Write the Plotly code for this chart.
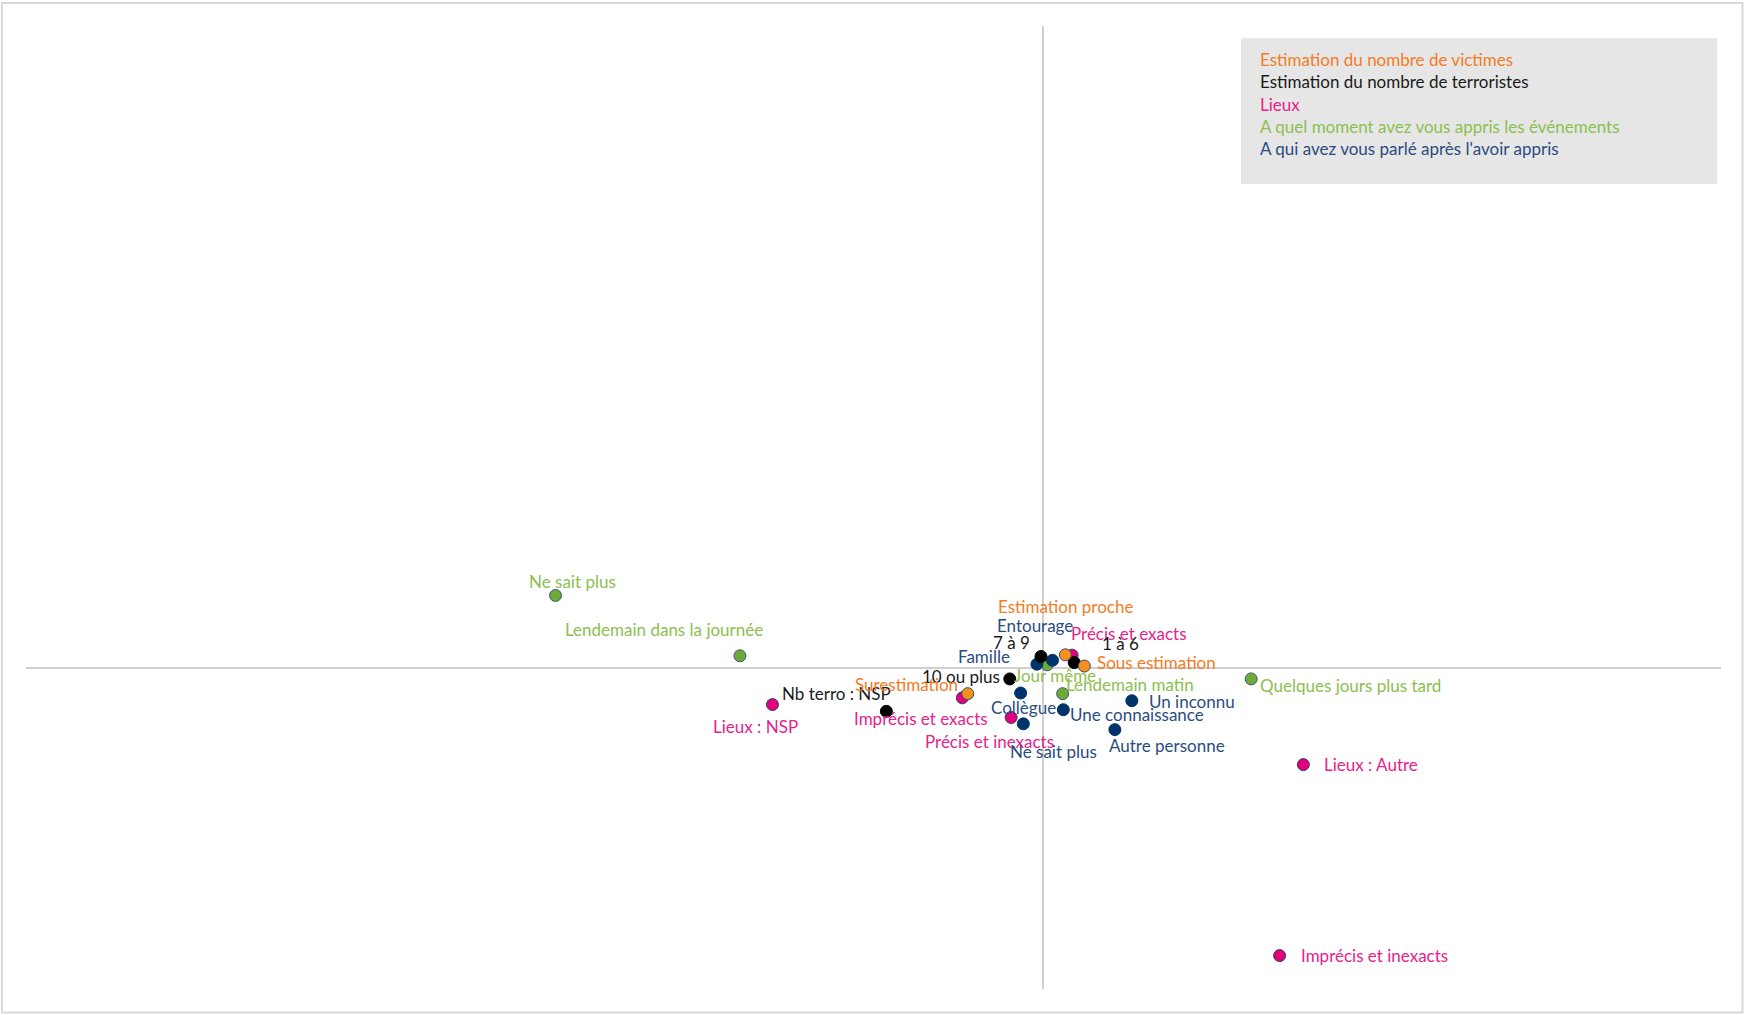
import plotly.graph_objects as go

# ---------------- data ----------------
vict_labels = ["Estimation proche", "Sous estimation", "Surestimation"]
vict_x = [0.033, 0.061, -0.111]
vict_y = [0.041, 0.006, -0.080]

terro_labels = ["7 à 9", "1 à 6", "10 ou plus", "Nb terro : NSP"]
terro_x = [-0.003, 0.046, -0.049, -0.231]
terro_y = [0.036, 0.017, -0.034, -0.135]

lieux_labels = ["Précis et exacts", "Imprécis et exacts", "Précis et inexacts",
                "Lieux : NSP", "Lieux : Autre", "Imprécis et inexacts"]
lieux_x = [0.043, -0.119, -0.047, -0.399, 0.384, 0.349]
lieux_y = [0.040, -0.093, -0.154, -0.114, -0.301, -0.896]

moment_labels = ["Ne sait plus", "Lendemain dans la journée", "Jour même",
                 "Lendemain matin", "Quelques jours plus tard"]
moment_x = [-0.719, -0.447, 0.006, 0.029, 0.307]
moment_y = [0.226, 0.038, 0.010, -0.080, -0.034]

aqui_labels = ["Famille", "Entourage", "Collègue", "Ne sait plus",
               "Une connaissance", "Un inconnu", "Autre personne"]
aqui_x = [-0.009, 0.014, -0.033, -0.029, 0.030, 0.131, 0.106]
aqui_y = [0.012, 0.024, -0.078, -0.174, -0.130, -0.102, -0.192]

legend_names = ["Estimation du nombre de victimes", "Estimation du nombre de terroristes",
                "Lieux", "A quel moment avez vous appris les événements",
                "A qui avez vous parlé après l'avoir appris"]

# ---------------- styles ----------------
FONT = "Lato"
LBL_SIZE = 17
# (anchor, dx px, dy px downward) for each label
vict_pos = [("center", 0, -48), ("left", 11, -4), ("right", -8, -9)]
terro_pos = [("center", -29, -14), ("center", 46, -19), ("right", -8, -2), ("center", -50, -18)]
lieux_pos = [("center", 57, -22), ("center", -41, 21), ("center", -22, 24),
             ("center", -17, 22), ("left", 19, 0), ("left", 19, 0)]
moment_pos = [("center", 17, -14), ("center", -76, -26), ("center", 8, 11),
              ("center", 67, -9), ("left", 7, 7)]
aqui_pos = [("center", -53, -8), ("center", -17, -35), ("center", 3, 14),
            ("center", 30, 28), ("left", 5, 5), ("left", 15, 1), ("center", 52, 16)]

groups = [
    # labels, x, y, pos, marker color, outline, text color
    (lieux_labels, lieux_x, lieux_y, lieux_pos, "#E4007C", "#2F3F6B", "#E6238C"),
    (moment_labels, moment_x, moment_y, moment_pos, "#6DAA37", "#3D5878", "#8CC04F"),
    (aqui_labels, aqui_x, aqui_y, aqui_pos, "#00336A", "#00336A", "#2B4C80"),
    (terro_labels, terro_x, terro_y, terro_pos, "#000000", "#000000", "#1A1A1A"),
    (vict_labels, vict_x, vict_y, vict_pos, "#F7901E", "#3D4B6B", "#F47C24"),
]
legend_colors = ["#F47C24", "#1A1A1A", "#E6238C", "#8CC04F", "#2B4C80"]

fig = go.Figure()
annotations = []
for labels, xs, ys, pos, mc, lc, tc in groups:
    fig.add_trace(go.Scatter(
        x=xs, y=ys, mode="markers", showlegend=False,
        marker=dict(size=12, color=mc, line=dict(color=lc, width=1)),
        hoverinfo="text", text=labels,
    ))
    for lab, x, y, (anc, dx, dy) in zip(labels, xs, ys, pos):
        annotations.append(dict(
            x=x, y=y, xref="x", yref="y", text=lab, showarrow=False,
            xanchor=anc, yanchor="middle", xshift=dx, yshift=-dy,
            font=dict(family=FONT, size=LBL_SIZE, color=tc),
        ))

# legend box (text only, as in reference)
leg_y = [0.9654, 0.9422, 0.9190, 0.8954, 0.8730]
for name, col, ly in zip(legend_names, legend_colors, leg_y):
    annotations.append(dict(
        x=0.7270, y=ly, xref="paper", yref="paper", text=name, showarrow=False,
        xanchor="left", yanchor="middle",
        font=dict(family=FONT, size=17, color=col),
    ))

shapes = [
    dict(type="rect", xref="paper", yref="paper", x0=0.7168, x1=0.9978, y0=0.8359, y1=0.9872,
         fillcolor="#E6E6E6", line=dict(width=0), layer="below"),
    dict(type="rect", xref="paper", yref="paper", x0=-0.0142, x1=1.0127, y0=-0.0244, y1=1.0239,
         fillcolor="rgba(0,0,0,0)", line=dict(color="#D9D9D9", width=2)),
]

axis_common = dict(showgrid=False, showticklabels=False, ticks="", showline=False,
                   zeroline=True, zerolinecolor="#CFCFCF", zerolinewidth=1.5, fixedrange=True)
fig.update_layout(
    width=1744, height=1015,
    margin=dict(l=26, r=23, t=26, b=26),
    paper_bgcolor="white", plot_bgcolor="white",
    xaxis=dict(range=[-1.5, 1.0], **axis_common),
    yaxis=dict(range=[-1.0, 2.0], **axis_common),
    annotations=annotations, shapes=shapes,
    font=dict(family=FONT),
)
fig.write_html("out.html", config={"displayModeBar": False},
               post_script="document.body.style.margin='0';document.body.style.overflow='hidden';")
